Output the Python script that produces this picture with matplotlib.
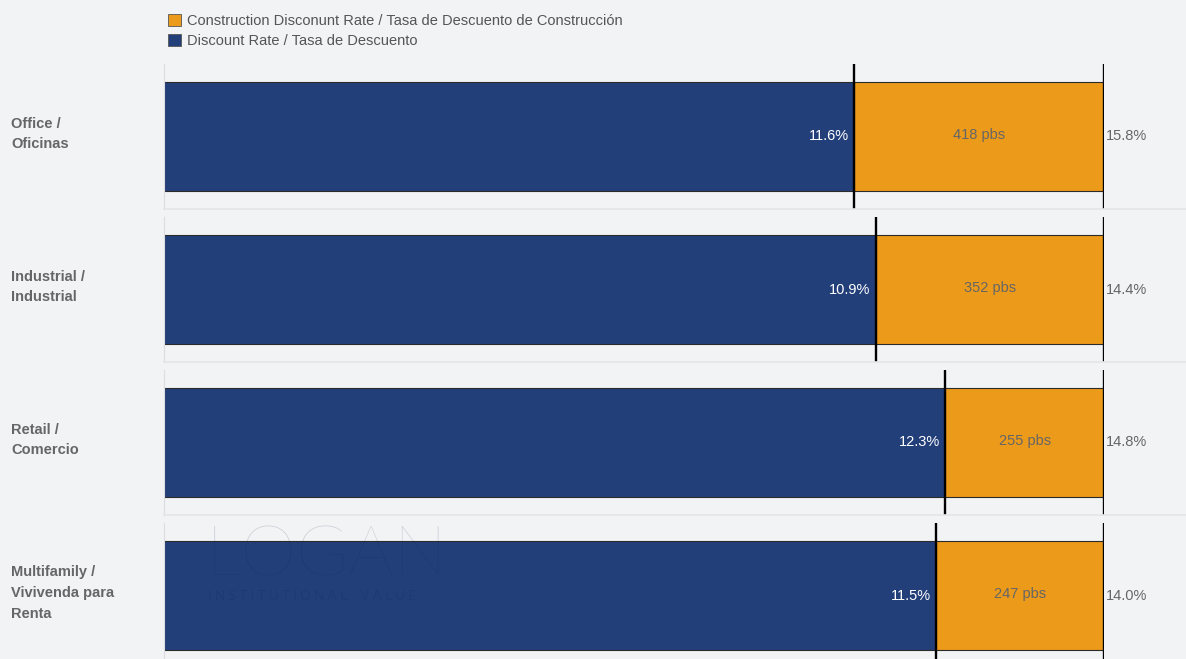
import matplotlib.pyplot as plt
from matplotlib.patches import Patch
from matplotlib.lines import Line2D

categories = ["Office /\nOficinas", "Industrial /\nIndustrial", "Retail /\nComercio",
              "Multifamily /\nVivivenda para\nRenta"]
discount = [11.6, 10.9, 12.3, 11.5]          # %
construction = [15.8, 14.4, 14.8, 14.0]      # %
spread_bps = [418, 352, 255, 247]

BLUE = "#233f7a"
ORANGE = "#ec9a1a"
BG = "#f2f3f5"
GREY = "#666666"

plt.rcParams["font.family"] = ["Liberation Sans", "DejaVu Sans"]

W, H = 1186, 659
fig = plt.figure(figsize=(W / 100, H / 100), dpi=100, facecolor=BG)

x0, x1 = 164, 1104
panel_top = 64
panel_h = 145
pitch = 153

for i, cat in enumerate(categories):
    top = panel_top + i * pitch
    ax = fig.add_axes([x0 / W, 1 - (top + panel_h) / H, (x1 - x0) / W, panel_h / H])
    ax.set_facecolor(BG)
    ax.set_xlim(0, 1)
    ax.set_ylim(-0.665, 0.665)

    share = discount[i] / construction[i]
    ax.barh(0, share, height=1, color=BLUE, edgecolor="#2b2b2b", linewidth=0.8)
    ax.barh(0, 1 - share, left=share, height=1, color=ORANGE, edgecolor="#2b2b2b", linewidth=0.8)
    ax.vlines([share, 1], -0.665, 0.665, color="black", linewidth=1.7, zorder=5)

    ax.annotate(f"{discount[i]:.1f}%", (share, 0), xytext=(-4, 0), textcoords="offset points",
                ha="right", va="center", color="white", fontsize=10.5)
    ax.annotate(f"{spread_bps[i]} pbs", ((share + 1) / 2, 0), xytext=(0, 1), textcoords="offset points",
                ha="center", va="center", color=GREY, fontsize=10.5)
    ax.annotate(f"{construction[i]:.1f}%", (1, 0), xytext=(1.5, 0), textcoords="offset points",
                ha="left", va="center", color=GREY, fontsize=10.5)

    for s in ["top", "right", "bottom"]:
        ax.spines[s].set_visible(False)
    ax.spines["left"].set_color("#dcdde0")
    ax.spines["left"].set_linestyle((0, (2, 1)))
    ax.spines["left"].set_linewidth(0.8)
    ax.set_xticks([])
    ax.set_yticks([])

    # separator under each panel
    ysep = 1 - (top + panel_h) / H
    fig.add_artist(Line2D([x0 / W, 1], [ysep, ysep], color="#e4e5e8", linewidth=1.2))

    fig.text(11 / W, 1 - (top + 70) / H, cat, ha="left", va="center", fontsize=10.5,
             fontweight="bold", color=GREY, linespacing=1.6)

# watermark
fig.text(206 / W, 1 - 557 / H, "LOGAN", fontsize=51, family=["Lato", "DejaVu Sans"],
         fontweight="light", color="#0d1f45", alpha=0.17, ha="left", va="center", zorder=10)
fig.text(208 / W, 1 - 596 / H, "I N S T I T U T I O N A L    V A L U E", fontsize=9.5,
         family=["Lato", "DejaVu Sans"], color="#0d1f45", alpha=0.15, ha="left", va="center", zorder=10)

handles = [Patch(facecolor=ORANGE, edgecolor="#555555", linewidth=0.6,
                 label="Construction Disconunt Rate / Tasa de Descuento de Construcción"),
           Patch(facecolor=BLUE, edgecolor="#555555", linewidth=0.6,
                 label="Discount Rate / Tasa de Descuento")]
leg = fig.legend(handles=handles, loc="upper left", bbox_to_anchor=(158 / W, 1 - 4 / H),
                 frameon=False, fontsize=10.5, handlelength=0.85, handleheight=0.85,
                 handletextpad=0.45, labelspacing=0.4, borderpad=0.2)
for t in leg.get_texts():
    t.set_color("#555555")

fig.savefig("out.png", dpi=100, facecolor=BG)
